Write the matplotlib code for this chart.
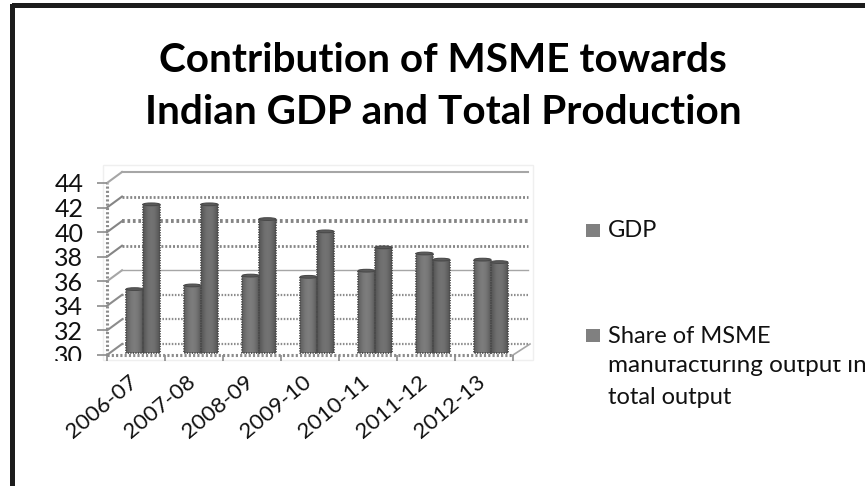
import numpy as np
import matplotlib
matplotlib.use("Agg")
import matplotlib.pyplot as plt
from matplotlib.patches import Ellipse, Rectangle
from matplotlib.transforms import Affine2D, Bbox

# ==========================================================
# Contribution of MSME - data
# ==========================================================

years = ["2006-07", "2007-08", "2008-09", "2009-10", "2010-11", "2011-12", "2012-13"]
gdp = [35.2, 35.5, 36.3, 36.2, 36.7, 38.1, 37.6]
share = [42.1, 42.1, 40.9, 39.9, 38.6, 37.6, 37.4]
y_ticks = [30, 32, 34, 36, 38, 40, 42, 44]

W, H = 865, 486
plt.rcParams["font.family"] = ["Lato", "DejaVu Sans"]

fig = plt.figure(figsize=(W / 100, H / 100), dpi=100, facecolor="white")


def fx(x):
    return x / W


def fy(y):
    return 1 - y / H


# frame at the top and left of the slide
fig.add_artist(Rectangle((fx(12), fy(8)), 1, 5 / H, transform=fig.transFigure, color="#1c1c1c", lw=0))
fig.add_artist(Rectangle((fx(10), 0), 5 / W, fy(4), transform=fig.transFigure, color="#1c1c1c", lw=0))

# title
fig.text(fx(443), fy(60), "Contribution of MSME towards", ha="center", va="center",
         fontsize=29.2, fontweight="bold", color="black")
fig.text(fx(443), fy(112), "Indian GDP and Total Production", ha="center", va="center",
         fontsize=29.2, fontweight="bold", color="black")

# chart area border
fig.add_artist(Rectangle((fx(103), fy(360)), 430 / W, 195 / H, transform=fig.transFigure,
                         facecolor="white", edgecolor="#efefef", lw=1, zorder=0))

# axes sit on the front plane of the 3D box
ax = fig.add_axes([fx(107), fy(355), 406 / W, 172 / H], zorder=5)
ax.set_xlim(-0.5, 6.5)
ax.set_ylim(30, 44)
ax.patch.set_alpha(0)
for s in ax.spines.values():
    s.set_visible(False)

depth_x, depth_y = 15, 11
back = ax.transData + Affine2D().translate(depth_x, depth_y)
mid = ax.transData + Affine2D().translate(7, 2)

# fine stipple used for the gridlines and axes
fine = (0, (0.7, 0.7))

# back wall gridlines
grid_styles = {
    30: ("#8c8c8c", 1.6, fine), 32: ("#8c8c8c", 1.6, fine), 34: ("#8c8c8c", 1.6, fine),
    36: ("#a6a6a6", 1.0, "-"), 38: ("#858585", 2.0, fine), 40: ("#858585", 2.8, fine),
    42: ("#858585", 2.0, fine), 44: ("#a6a6a6", 1.5, "-"),
}
for v in y_ticks:
    c, lw, ls = grid_styles[v]
    ax.plot([-0.5, 6.5], [v, v], transform=back, color=c, lw=lw, ls=ls, clip_on=False, zorder=1)
    # the same line running across the side wall
    x0, y0 = ax.transData.transform((-0.5, v))
    ax.plot([x0, x0 + depth_x], [y0, y0 + depth_y], transform=None, color=c, lw=1.5,
            clip_on=False, zorder=1)

# floor edges and front axes
x0, y0 = ax.transData.transform((6.5, 30))
ax.plot([x0, x0 + depth_x + 2], [y0, y0 + depth_y], transform=None, color="#a6a6a6", lw=1.2,
        clip_on=False, zorder=1)
ax.plot([-0.5, 6.5], [30, 30], color="#8c8c8c", lw=2.2, ls=fine, clip_on=False, zorder=2)
ax.plot([-0.5, -0.5], [30, 44], color="#8c8c8c", lw=2.2, ls=fine, clip_on=False, zorder=2)

# cylinders, shaded with a small horizontal gradient
shade = np.array([[0.38, 0.42, 0.46, 0.48, 0.49, 0.48, 0.46, 0.42, 0.37]])
bar_w = 0.29
for i in range(len(years)):
    for offset, val, k in [(-bar_w / 2, gdp[i], 1.0), (bar_w / 2, share[i], 0.92)]:
        left = i + offset - bar_w / 2
        im = ax.imshow(shade * k, extent=[left, left + bar_w, 30, val], aspect="auto",
                       cmap="gray", vmin=0, vmax=1, transform=mid, zorder=3, clip_on=False,
                       interpolation="bilinear")
        ax.plot([left, left, left + bar_w, left + bar_w], [val, 30, 30, val], transform=mid,
                color="#4a4a4a", lw=1.3, ls=fine, zorder=4, clip_on=False)
        ax.add_patch(Ellipse((i + offset, val), bar_w, 0.22, transform=mid,
                             facecolor="#5a5a5a", edgecolor="#4a4a4a", lw=0.8, zorder=4,
                             clip_on=False))
ax.set_xlim(-0.5, 6.5)
ax.set_ylim(30, 44)

# ticks: marks between categories, labels on the categories
ax.set_xticks(np.arange(-0.5, 7.0, 1.0))
ax.set_xticklabels([])
ax.tick_params(axis="x", which="major", length=4, color="#8c8c8c", width=1.2, pad=0)
ax.set_xticks(np.arange(len(years)), minor=True)
ax.set_xticklabels(years, minor=True, rotation=40, ha="right", va="top",
                   rotation_mode="anchor", fontsize=16, color="#111111")
ax.tick_params(axis="x", which="minor", length=0, pad=12)
for lab in ax.get_xticklabels(minor=True):
    lab.set_transform(lab.get_transform() + Affine2D().translate(-8, 0))

ax.set_yticks(y_ticks)
ax.set_yticklabels([str(v) for v in y_ticks], fontsize=18, color="#111111")
ax.tick_params(axis="y", length=7, color="#8c8c8c", width=1.2, pad=10)
# lowest tick label is cut off by the chart's lower edge
for lab in ax.get_yticklabels():
    lab.set_clip_on(True)
    lab.set_clip_box(Bbox([[0, H - 361], [W, H]]))

# legend
legend_color = "#808080"
fig.add_artist(Rectangle((fx(586), fy(237)), 14 / W, 13 / H, transform=fig.transFigure,
                         color=legend_color, lw=0))
fig.add_artist(Rectangle((fx(586), fy(342)), 14 / W, 13 / H, transform=fig.transFigure,
                         color=legend_color, lw=0))
fig.text(fx(608), fy(237), "GDP", fontsize=17, color="#111111", va="baseline")
fig.text(fx(608), fy(343), "Share of MSME", fontsize=17, color="#111111", va="baseline")
wrapped = fig.text(fx(608), fy(372), "manufacturing output in", fontsize=17.5, color="#111111",
                   va="baseline")
wrapped.set_clip_on(True)
wrapped.set_clip_box(Bbox([[0, 0], [W, H - 360]]))
fig.text(fx(608), fy(404), "total output", fontsize=17, color="#111111", va="baseline")

fig.savefig("out.png", dpi=100)
